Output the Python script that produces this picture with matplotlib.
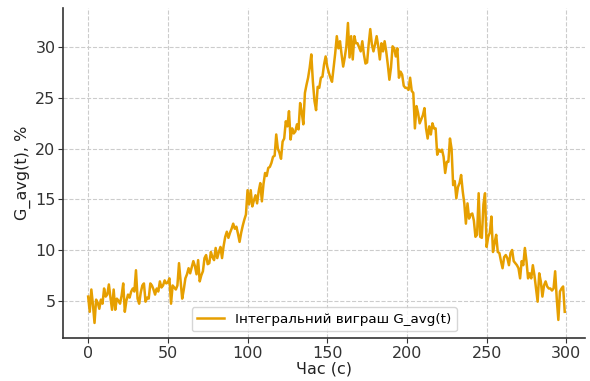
import numpy as np
import matplotlib
matplotlib.use("Agg")
import matplotlib.pyplot as plt

# Integral gain G_avg(t), one value per second
g_avg = [
    5.4, 3.9, 6.1, 4.6, 2.8, 5.1, 4.8, 4.2, 5.1, 4.7,
    6.2, 5.4, 5.6, 6.6, 5.3, 4.1, 6.1, 4.1, 5.2, 5.0,
    4.7, 5.5, 6.7, 3.9, 5.0, 5.6, 5.3, 5.9, 6.2, 5.9,
    8.0, 5.2, 4.7, 5.8, 6.5, 6.7, 4.9, 5.3, 5.2, 6.7,
    6.5, 6.1, 5.6, 6.2, 5.9, 6.9, 6.3, 6.5, 7.0, 6.7,
    6.8, 7.2, 4.7, 6.5, 6.3, 6.1, 6.5, 8.7, 6.9, 5.2,
    6.1, 7.2, 7.6, 8.2, 7.7, 8.3, 8.9, 8.4, 7.6, 9.0,
    6.9, 7.5, 7.9, 9.2, 9.5, 8.6, 8.7, 9.8, 9.3, 9.0,
    10.2, 9.2, 9.8, 10.3, 9.2, 10.4, 11.3, 11.8, 11.2, 11.7,
    12.1, 12.6, 12.1, 12.3, 11.6, 10.8, 11.7, 12.4, 13.0, 13.5,
    15.9, 14.5, 15.9, 14.3, 14.9, 15.4, 14.6, 15.8, 16.6, 14.8,
    16.5, 17.6, 17.3, 18.1, 18.2, 18.6, 19.2, 19.3, 21.4, 20.0,
    19.6, 19.0, 20.7, 21.0, 22.7, 22.2, 23.7, 20.9, 22.0, 21.5,
    21.7, 22.4, 21.9, 24.5, 23.6, 22.4, 25.5, 26.3, 27.0, 28.0,
    29.3, 26.6, 24.7, 23.8, 26.1, 26.0, 27.0, 27.1, 28.3, 29.1,
    28.1, 27.5, 27.0, 26.6, 28.0, 29.4, 31.1, 29.9, 30.6, 29.3,
    28.1, 29.0, 30.1, 32.4, 29.0, 31.1, 28.8, 31.1, 30.4, 30.4,
    30.0, 29.6, 30.6, 29.3, 28.4, 28.5, 30.3, 31.8, 30.3, 29.6,
    30.3, 31.1, 30.1, 28.8, 30.4, 29.6, 30.6, 29.6, 28.3, 26.8,
    28.0, 30.1, 29.9, 29.1, 29.9, 27.0, 27.6, 27.3, 26.2, 26.0,
    26.0, 25.8, 27.0, 25.7, 25.5, 22.0, 24.2, 23.5, 22.5, 22.9,
    23.3, 24.0, 22.0, 21.0, 22.2, 21.4, 22.5, 22.0, 22.0, 19.4,
    19.9, 19.7, 19.9, 19.2, 17.6, 18.7, 18.7, 21.0, 20.0, 16.4,
    16.8, 15.1, 16.2, 16.6, 17.4, 15.8, 14.6, 12.6, 14.6, 13.1,
    13.5, 13.6, 12.9, 11.3, 11.5, 15.6, 11.3, 11.2, 14.5, 15.6,
    10.3, 11.3, 11.7, 13.3, 9.8, 10.7, 11.5, 9.8, 9.7, 8.9,
    8.2, 9.3, 9.5, 9.2, 8.5, 9.7, 10.0, 8.9, 8.7, 8.5,
    8.2, 7.2, 8.9, 8.5, 10.2, 8.9, 7.2, 7.7, 7.2, 8.5,
    7.5, 6.2, 4.9, 7.7, 6.9, 5.4, 6.5, 6.9, 6.4, 6.2,
    6.2, 6.0, 6.2, 7.9, 5.2, 3.1, 5.9, 6.2, 6.4, 3.9,
]
t = np.arange(len(g_avg))

fig, ax = plt.subplots(figsize=(5.9, 3.81), dpi=100)
fig.subplots_adjust(left=0.107, right=0.992, top=0.979, bottom=0.113)

ax.plot(t, g_avg, color='#E69F00', linewidth=1.8, label='Інтегральний виграш G_avg(t)')

ax.set_xlim(-15.7, 311.9)
ax.set_xlabel('Час (с)', fontsize=11.5, color='#222222', labelpad=1)
ax.set_ylabel('G_avg(t), %', fontsize=11.5, color='#222222', labelpad=3)
ax.set_xticks([0, 50, 100, 150, 200, 250, 300])
ax.set_yticks([5, 10, 15, 20, 25, 30])
ax.tick_params(labelsize=11.5, colors='#333333', length=3.5, pad=2)

ax.grid(True, linestyle='--', color='#cccccc', linewidth=0.8)
ax.spines['top'].set_visible(False)
ax.spines['right'].set_visible(False)
for s in ('left', 'bottom'):
    ax.spines[s].set_color('#333333')
    ax.spines[s].set_linewidth(1.2)

ax.legend(loc='lower center', fontsize=9.7, frameon=True)

fig.savefig('out.png', dpi=100)
